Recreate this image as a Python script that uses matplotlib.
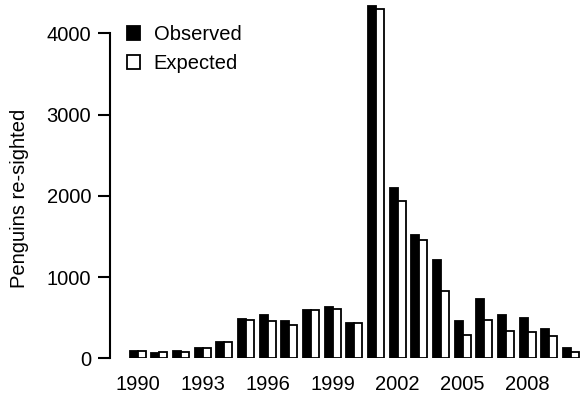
import numpy as np
import matplotlib.pyplot as plt

plt.rcParams['font.family'] = ['Liberation Sans', 'DejaVu Sans']

# Penguins re-sighted per year
years = np.arange(1990, 2011)
observed = [90, 65, 90, 125, 200, 480, 530, 465, 600, 635, 430,
            4330, 2100, 1520, 1205, 460, 735, 530, 495, 355, 125]
expected = [85, 75, 80, 125, 200, 470, 465, 410, 595, 608, 440,
            4295, 1935, 1460, 825, 285, 475, 330, 325, 275, 75]
xtick_years = [1990, 1993, 1996, 1999, 2002, 2005, 2008]
ytick_vals = [0, 1000, 2000, 3000, 4000]

fs = 14.5

fig = plt.figure(figsize=(5.83, 3.93), dpi=100)
ax = fig.add_axes([0.1887, 0.0883, 0.8113, 0.9097])

w = 0.37
ax.bar(years - w / 2, observed, width=w, color='black', edgecolor='black',
       linewidth=1.3, label='Observed')
ax.bar(years + w / 2, expected, width=w, color='white', edgecolor='black',
       linewidth=1.3, label='Expected')

ax.set_xlim(1988.73, 2010.55)
ax.set_ylim(0, 4400)

for s in ['top', 'right', 'bottom']:
    ax.spines[s].set_visible(False)
ax.spines['left'].set_bounds(0, 4000)
ax.spines['left'].set_linewidth(1.5)

ax.set_xticks(xtick_years)
ax.set_yticks(ytick_vals)
ax.tick_params(axis='x', length=0, pad=12, labelsize=fs)
ax.tick_params(axis='y', length=8.5, width=1.5, pad=5, labelsize=fs)

fig.text(20 / 583, 1 - 198 / 393, 'Penguins re-sighted', rotation=90,
         ha='center', va='center', fontsize=fs)

ax.legend(loc='upper left', bbox_to_anchor=(0.018, 0.955), frameon=False,
          fontsize=fs, handlelength=0.65, handleheight=0.65,
          handletextpad=0.7, labelspacing=0.5, borderaxespad=0)

fig.savefig('out.png', dpi=100)
